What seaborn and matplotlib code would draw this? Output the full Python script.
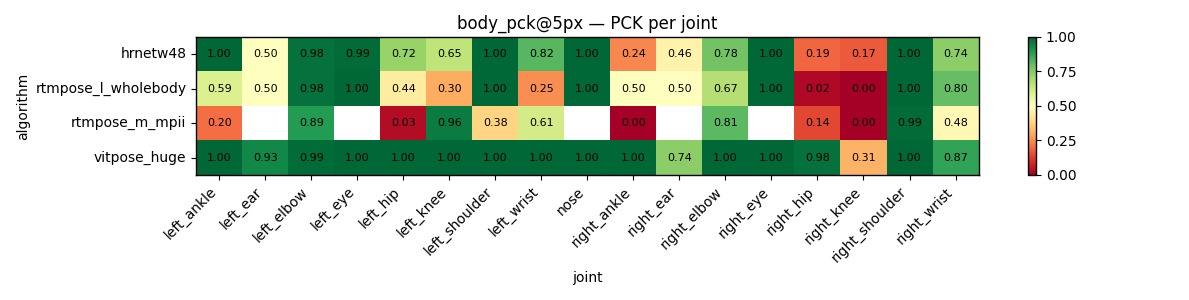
import numpy as np
import pandas as pd
import matplotlib
matplotlib.use("Agg")
import matplotlib.pyplot as plt
import seaborn as sns

# ---- data ----
algorithms = ["hrnetw48", "rtmpose_l_wholebody", "rtmpose_m_mpii", "vitpose_huge"]
joints = ["left_ankle", "left_ear", "left_elbow", "left_eye", "left_hip", "left_knee",
          "left_shoulder", "left_wrist", "nose", "right_ankle", "right_ear", "right_elbow",
          "right_eye", "right_hip", "right_knee", "right_shoulder", "right_wrist"]

nan = np.nan
hrnetw48 = [1.00, 0.50, 0.98, 0.99, 0.72, 0.65, 1.00, 0.82, 1.00, 0.24, 0.46, 0.78, 1.00, 0.19, 0.17, 1.00, 0.74]
rtmpose_l_wholebody = [0.59, 0.50, 0.98, 1.00, 0.44, 0.30, 1.00, 0.25, 1.00, 0.50, 0.50, 0.67, 1.00, 0.02, 0.00, 1.00, 0.80]
rtmpose_m_mpii = [0.20, nan, 0.89, nan, 0.03, 0.96, 0.38, 0.61, nan, 0.00, nan, 0.81, nan, 0.14, 0.00, 0.99, 0.48]
vitpose_huge = [1.00, 0.93, 0.99, 1.00, 1.00, 1.00, 1.00, 1.00, 1.00, 1.00, 0.74, 1.00, 1.00, 0.98, 0.31, 1.00, 0.87]

pck = pd.DataFrame([hrnetw48, rtmpose_l_wholebody, rtmpose_m_mpii, vitpose_huge],
                   index=pd.Index(algorithms, name="algorithm"),
                   columns=pd.Index(joints, name="joint"))

# ---- plot ----
fig = plt.figure(figsize=(11.89, 3.0), dpi=100)
ax = fig.add_axes([0.165, 0.417, 0.658, 0.46])
cax = fig.add_axes([0.8646, 0.417, 0.0067, 0.46])

sns.heatmap(pck, ax=ax, cbar_ax=cax, cmap="RdYlGn", vmin=0, vmax=1,
            annot=True, fmt=".2f", annot_kws={"fontsize": 8, "color": "black"})

for s in ax.spines.values():
    s.set_visible(True)
    s.set_linewidth(1.0)
ax.tick_params(length=3.5)
ax.set_xticklabels(joints, rotation=45, ha="right", fontsize=10)
ax.set_yticklabels(algorithms, rotation=0, fontsize=10)
ax.set_xlabel("joint", fontsize=10)
ax.set_ylabel("algorithm", fontsize=10)
ax.set_title("body_pck@5px \u2014 PCK per joint", fontsize=12)

cb = ax.collections[0].colorbar
cb.set_ticks([0, 0.25, 0.5, 0.75, 1.0])
cb.set_ticklabels(["0.00", "0.25", "0.50", "0.75", "1.00"])
cb.outline.set_visible(True)
cb.outline.set_linewidth(1.0)
cax.tick_params(labelsize=10, length=3.5)

fig.savefig("out.png", dpi=100)
